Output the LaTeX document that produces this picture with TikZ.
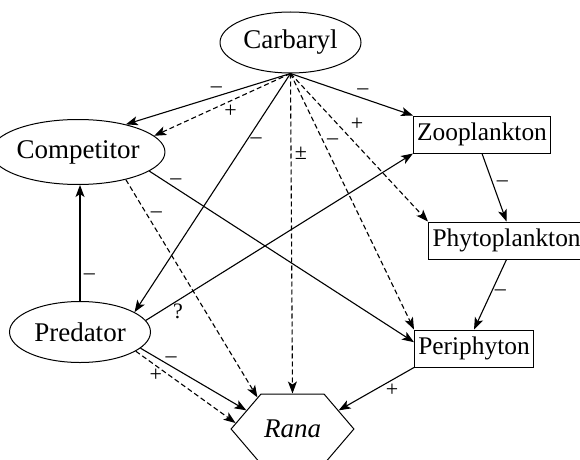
\documentclass[tikz,border=0pt]{standalone}
\usepackage{fontspec}
\setmainfont{Liberation Serif}
\usetikzlibrary{arrows.meta,shapes.geometric,shapes.symbols}

\begin{document}
\begin{tikzpicture}[x=1pt,y=1pt,
		every node/.style={font=\fontsize{27}{30}\selectfont},
		oval/.style={draw, ellipse, line width=1pt, inner sep=0pt},
		box/.style={draw, rectangle, line width=1pt, font=\fontsize{25.4}{30}\selectfont,
			inner xsep=1.5pt, inner ysep=0pt, minimum height=37pt},
		eff/.style={line width=1.1pt, -{Stealth[length=12pt,width=9pt,inset=3pt]}},
		ind/.style={eff, dash pattern=on 5pt off 3pt},
		sgn/.style={font=\fontsize{22}{26}\selectfont}]
	\useasboundingbox (0,0) rectangle (580,459);
	% treatment and species
	\node[oval, minimum width=141pt, minimum height=61pt] (carb) at (290.5,416.5) {Carbaryl};
	\node[oval, minimum width=140pt, minimum height=65pt] (comp) at (78,307) {Competitor};
	\node[oval, minimum width=141pt, minimum height=61pt] (pred) at (80,127) {Predator};
	\node[box, minimum width=137pt, anchor=west] (zoo) at (413,324.5) {Zooplankton};
	\node[box, minimum width=156pt, anchor=west, inner xsep=2.5pt, align=left, text width=148pt] (phyto) at (428,218.5) {Phytoplankton};
	\node[box, minimum width=119pt, anchor=west] (per) at (414,110.5) {Periphyton};
	\node[draw, signal, signal to=west and east, signal pointer angle=99, line width=1pt,
		inner xsep=3pt, minimum height=70pt] (rana) at (292.5,30) {\itshape Rana};
	% effects of carbaryl
	\draw[eff] (carb.south) -- (comp.30) node[sgn, pos=.45, above] {--};
	\draw[ind] (carb.south) -- (comp.12) node[sgn, pos=.44, below] {+};
	\draw[eff] (carb.south) -- (pred.20) node[sgn, pos=.28, right] {--};
	\draw[ind] (carb.south) -- (rana.north) node[sgn, pos=.25, right] {±};
	\draw[ind] (carb.south) -- (per.north west) node[sgn, pos=.265, right] {--};
	\draw[ind] (carb.south) -- (phyto.north west) node[sgn, pos=.41, above right] {+};
	\draw[eff] (carb.south) -- (zoo.north west) node[sgn, pos=.59, above] {--};
	% competitor
	\draw[ind] (comp.-30) -- (rana.138) node[sgn, pos=.16, right] {--};
	\draw[eff] (comp.-15) -- (per.174) node[sgn, pos=.1, above] {--};
	% predator
	\draw[eff] (pred.north) -- (pred.north |- comp.south) node[sgn, pos=.21, right] {--};
	\draw[eff] (pred.10) -- (zoo.south west) node[sgn, pos=.12, below] {?};
	\draw[eff] (pred.-15) -- (rana.158) node[sgn, pos=.29, above] {--};
	\draw[ind] (pred.-19) -- (rana.174) node[sgn, pos=.2, below] {+};
	% food chain
	\draw[eff] (zoo.south) -- (phyto.north) node[sgn, pos=.45, right] {--};
	\draw[eff] (phyto.south) -- (per.north) node[sgn, pos=.48, right] {--};
	\draw[eff] (per.south west) -- (rana.22) node[sgn, pos=.29, below] {+};
\end{tikzpicture}
\end{document}
